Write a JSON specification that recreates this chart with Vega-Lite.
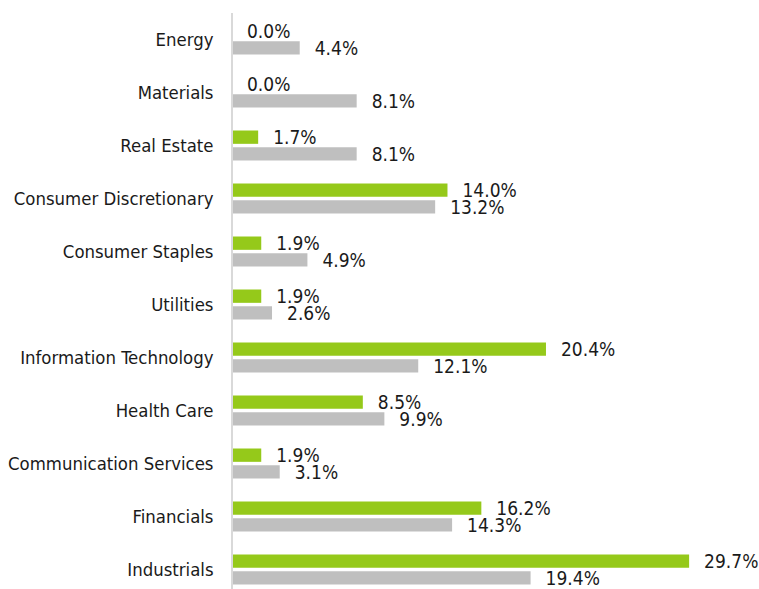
{
  "$schema": "https://vega.github.io/schema/vega-lite/v6.json",
  "autosize": "none",
  "width": 527,
  "height": 576,
  "padding": {"left": 232, "top": 13, "right": 0, "bottom": 0},
  "background": "white",
  "config": {"view": {"stroke": null}, "font": "DejaVu Sans Condensed"},
  "data": {
    "values": [
      {"sector": "Energy", "series": "a", "value": 0.0},
      {"sector": "Energy", "series": "b", "value": 4.4},
      {"sector": "Materials", "series": "a", "value": 0.0},
      {"sector": "Materials", "series": "b", "value": 8.1},
      {"sector": "Real Estate", "series": "a", "value": 1.7},
      {"sector": "Real Estate", "series": "b", "value": 8.1},
      {"sector": "Consumer Discretionary", "series": "a", "value": 14.0},
      {"sector": "Consumer Discretionary", "series": "b", "value": 13.2},
      {"sector": "Consumer Staples", "series": "a", "value": 1.9},
      {"sector": "Consumer Staples", "series": "b", "value": 4.9},
      {"sector": "Utilities", "series": "a", "value": 1.9},
      {"sector": "Utilities", "series": "b", "value": 2.6},
      {"sector": "Information Technology", "series": "a", "value": 20.4},
      {"sector": "Information Technology", "series": "b", "value": 12.1},
      {"sector": "Health Care", "series": "a", "value": 8.5},
      {"sector": "Health Care", "series": "b", "value": 9.9},
      {"sector": "Communication Services", "series": "a", "value": 1.9},
      {"sector": "Communication Services", "series": "b", "value": 3.1},
      {"sector": "Financials", "series": "a", "value": 16.2},
      {"sector": "Financials", "series": "b", "value": 14.3},
      {"sector": "Industrials", "series": "a", "value": 29.7},
      {"sector": "Industrials", "series": "b", "value": 19.4}
    ]
  },
  "encoding": {
    "y": {
      "field": "sector",
      "type": "nominal",
      "sort": null,
      "scale": {"range": [0, 583], "paddingInner": 0.434, "paddingOuter": 0.217},
      "axis": {
        "title": null,
        "domain": false,
        "ticks": false,
        "labelPadding": 19,
        "labelFontSize": 18.4,
        "labelLimit": 0,
        "labelColor": "#1a1a1a",
        "labelFont": "DejaVu Sans Condensed"
      }
    },
    "yOffset": {
      "field": "series",
      "type": "nominal",
      "scale": {"paddingInner": 0.2, "paddingOuter": 0}
    },
    "x": {
      "field": "value",
      "type": "quantitative",
      "scale": {"domain": [0, 34.24], "nice": false, "zero": true},
      "axis": null
    }
  },
  "layer": [
    {
      "mark": {"type": "bar"},
      "encoding": {
        "color": {
          "field": "series",
          "type": "nominal",
          "scale": {"domain": ["a", "b"], "range": ["#95c91a", "#bfbfbf"]},
          "legend": null
        }
      }
    },
    {
      "mark": {
        "type": "text",
        "align": "left",
        "baseline": "middle",
        "dx": 15,
        "dy": 1,
        "fontSize": 19,
        "font": "DejaVu Sans Condensed",
        "color": "#1a1a1a",
        "text": {"expr": "format(datum.value, '.1f') + '%'"}
      }
    },
    {
      "data": {"values": [{"x": 0}]},
      "mark": {"type": "rule", "color": "#d9d9d9", "strokeWidth": 2},
      "encoding": {
        "x": {"field": "x", "type": "quantitative"},
        "y": null,
        "yOffset": null
      }
    }
  ]
}
